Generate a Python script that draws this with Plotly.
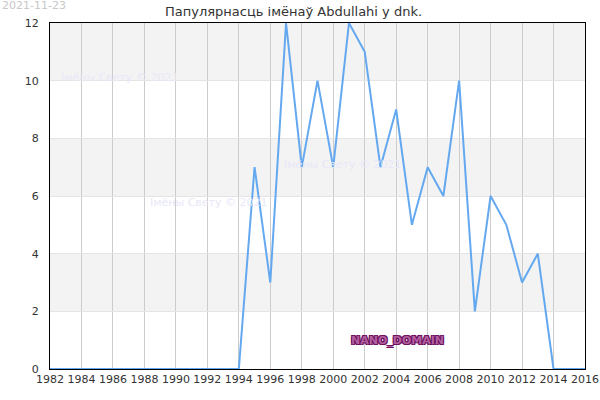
import plotly.graph_objects as go

years = list(range(1982, 2017))
values = [0]*13 + [7, 3, 12, 7, 10, 7, 12, 11, 7, 9, 5, 7, 6, 10, 2, 6, 5, 3, 4, 0, 0, 0]
title = "Папулярнасць імёнаў Abdullahi у dnk."
watermark = "Імёны Свету © 2021"
date_label = "2021-11-23"
x_ticks = list(range(1982, 2017, 2))
y_ticks = list(range(0, 13, 2))

fig = go.Figure()
fig.add_trace(go.Scatter(x=years, y=values, mode="lines",
                         line=dict(color="#64a8f0", width=2), hoverinfo="skip", cliponaxis=False))

shapes = []
for lo in (2, 6, 10):
    shapes.append(dict(type="rect", xref="paper", yref="y", x0=0, x1=1, y0=lo, y1=lo + 2,
                       fillcolor="#f3f3f3", line_width=0, layer="below"))
fig.update_layout(shapes=shapes)

ann = [
    dict(text=date_label, xref="paper", yref="paper", x=0, y=1, xanchor="left", yanchor="bottom",
         xshift=-50, yshift=9, showarrow=False, font=dict(size=11, color="#c8c8c8")),
    dict(text=title, xref="paper", yref="paper", x=0.5, y=1, xanchor="center", yanchor="bottom",
         xshift=-24, yshift=2, showarrow=False, font=dict(size=13, color="#333")),
    dict(text=watermark, x=1982.6, y=10.1, xanchor="left", yanchor="middle", showarrow=False,
         font=dict(size=11, color="#e8e8f8")),
    dict(text=watermark, x=1996.75, y=7.1, xanchor="left", yanchor="middle", showarrow=False,
         font=dict(size=11, color="#e8e8f8")),
    dict(text=watermark, x=1988.2, y=5.78, xanchor="left", yanchor="middle", showarrow=False,
         font=dict(size=11, color="#e8e8f8")),
    dict(text="<b>NANO_DOMAIN</b>", x=2004.1, y=1.0, xanchor="center", yanchor="middle", showarrow=False,
         font=dict(size=11, color="#b3609f",
                   shadow="-1px -1px 0 #6b1060, 1px -1px 0 #6b1060, -1px 1px 0 #6b1060, 1px 1px 0 #6b1060")),
]

fig.update_layout(
    width=600, height=400,
    margin=dict(l=50, r=15, t=23, b=31),
    paper_bgcolor="white", plot_bgcolor="white",
    showlegend=False,
    font=dict(family="DejaVu Sans", size=11, color="#333"),
    annotations=ann,
    xaxis=dict(range=[1982, 2016], tickvals=x_ticks, showgrid=True, gridcolor="#cccccc",
               gridwidth=1, showline=True, linecolor="black", linewidth=1, mirror=True,
               zeroline=False, ticks="", automargin=False, tickfont=dict(size=11, color="#333")),
    yaxis=dict(range=[0, 12], tickvals=y_ticks, showgrid=True, gridcolor="#e4e4e4",
               showline=True, linecolor="black", linewidth=1, mirror=True, zeroline=False,
               ticks="", automargin=False, ticklabelstandoff=8, tickfont=dict(size=11, color="#333")),
)

fig.write_html("out.html")
